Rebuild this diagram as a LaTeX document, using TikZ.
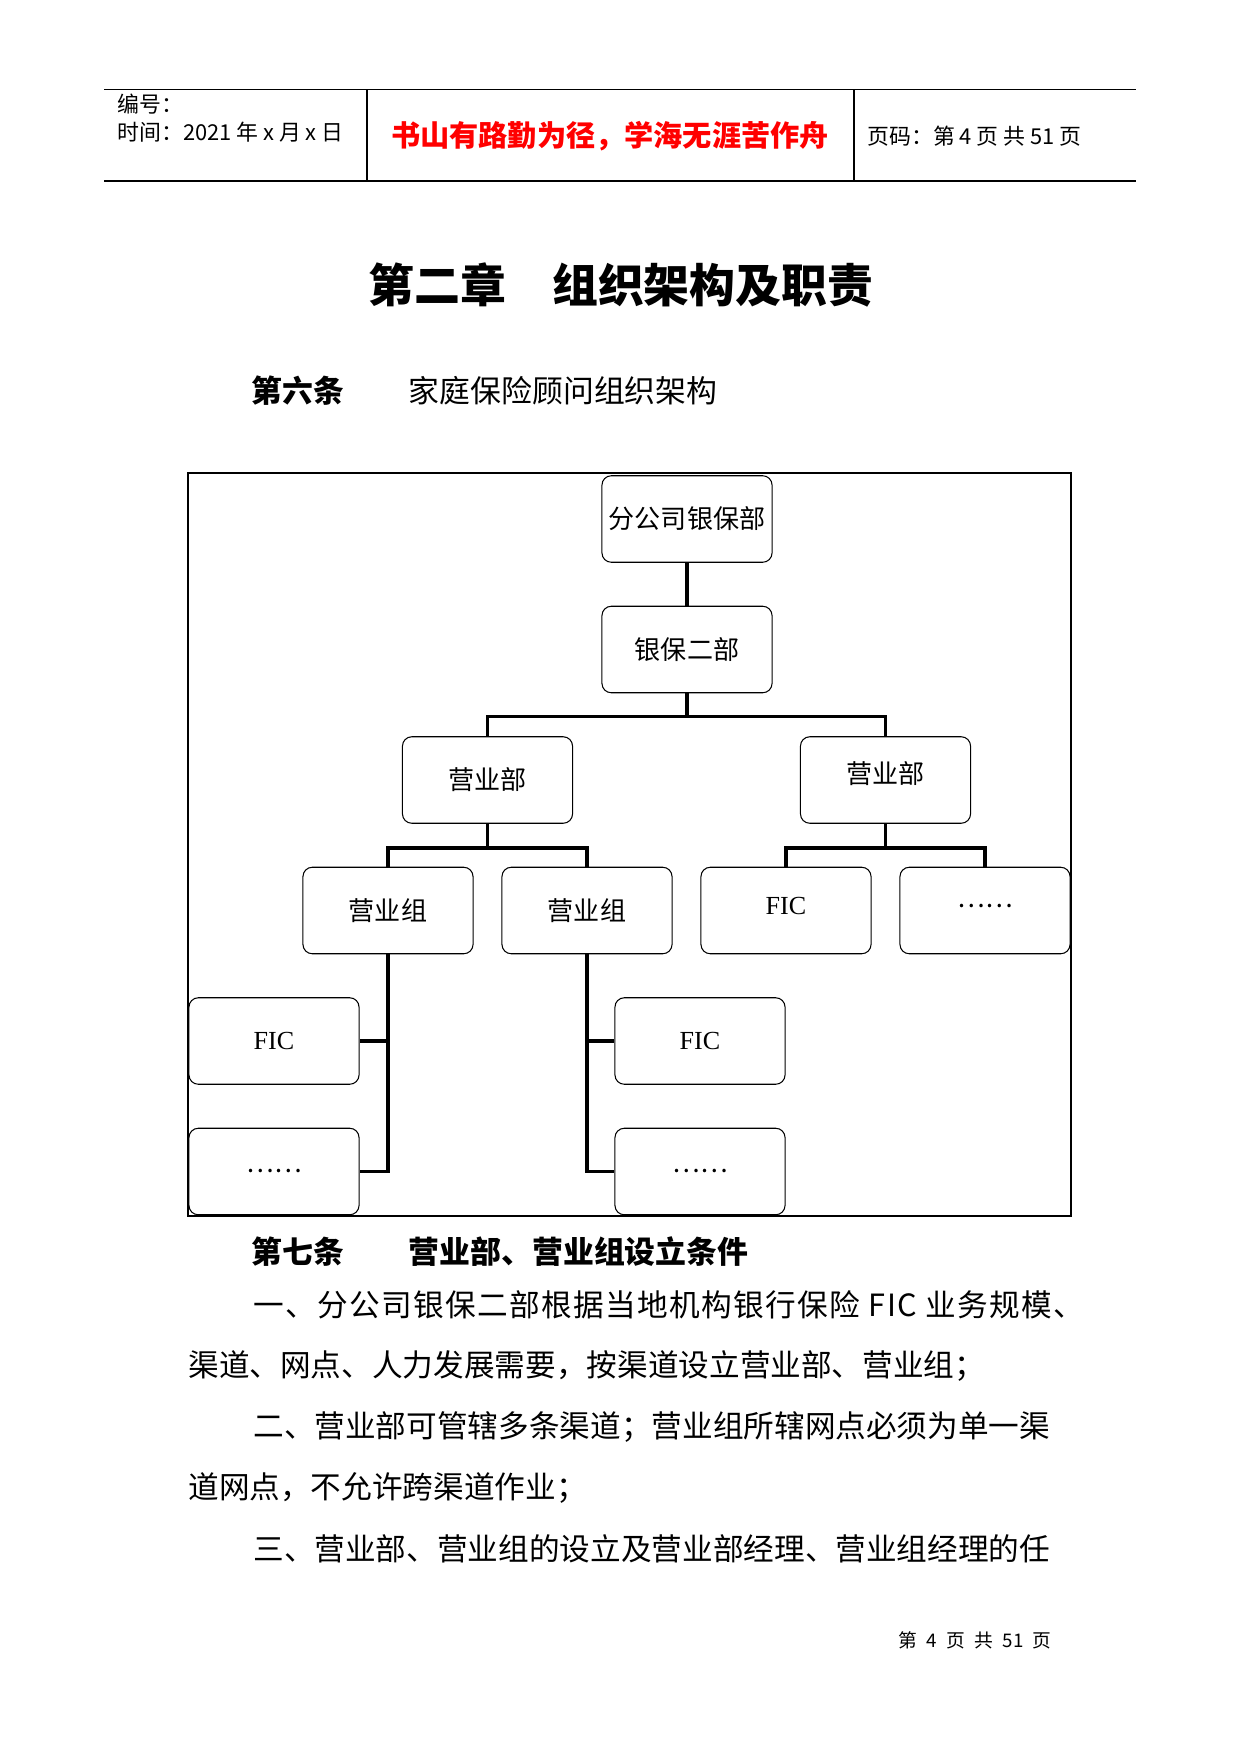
\documentclass[tikz,border=0pt]{standalone}
\usepackage{fontspec}
\setmainfont{Noto Sans CJK SC}
\newfontfamily\latinserif{Liberation Serif}
\usetikzlibrary{math}
\tikzset{
	orgbox/.style={draw,rounded corners=4.5pt,minimum width=81.6pt,minimum height=41.5pt,inner sep=0pt,line width=0.5pt,font=\fontsize{12.5}{12.5}\selectfont},
	ficbox/.style={orgbox,font=\latinserif\fontsize{12.5}{12.5}\selectfont},
	raised/.style={text depth=#1},
	conn/.style={line width=1.8pt,line join=miter},
	rule/.style={line width=0.75pt},
	bodytext/.style={anchor=west,inner sep=0pt,font=\fontsize{14.7}{14.7}\selectfont},
	headtext/.style={anchor=west,inner sep=0pt,font=\fontsize{10.5}{10.5}\selectfont},
	articletext/.style={anchor=west,inner sep=0pt,font=\fontsize{14.8}{14.8}\selectfont},
}

\begin{document}
\begin{tikzpicture}[x=0.4797pt,y=-0.4797pt]
	\useasboundingbox (0,0) rectangle (1241,1754);
	\tikzmath{\dx=199; \dy=130.5; \cx=687;
	\rowa=519; \rowb=\rowa+\dy; \rowc=\rowb+\dy; \rowd=\rowc+\dy; \rowe=\rowd+\dy; \rowf=\rowe+\dy;
	\cola=388; \colb=\cola+\dx; \colc=\colb+\dx; \cold=\colc+\dx;
	\mida=(\cola+\colb)/2; \midb=(\colc+\cold)/2;
	\fica=\cola-114; \ficb=\colb+113;
	\busy=\rowb+67; \busz=\rowc+68;
	\hdl=104; \hdr=1136; \hdt=89.5; \hdb=181;
	\txa=253; \txb=188; \lsk=61; \lny=1305;
	}
	% page header
	\draw[rule] (\hdl,\hdt) -- (\hdr,\hdt);
	\draw[rule] (\hdl,\hdb) -- (\hdr,\hdb);
	\draw[rule] (367,\hdt) -- (367,\hdb);
	\draw[rule] (854,\hdt) -- (854,\hdb);
	\node (bianhao) at (117,104)[headtext]{编号：};
	\node (shijian) at (117,132)[headtext]{时间：2021 年 x 月 x 日};
	\node (motto) at (610,136.5)[text=red,font=\bfseries\fontsize{14}{14}\selectfont]{书山有路勤为径，学海无涯苦作舟};
	\node (yema) at (867,136.5)[headtext]{页码：第 4 页 共 51 页};
	% headings
	\node (title) at (621,285)[font=\bfseries\fontsize{22}{22}\selectfont]{第二章　组织架构及职责};
	\node (art6) at (251,390.5)[articletext,font=\bfseries\fontsize{14.8}{14.8}\selectfont]{第六条};
	\node (art6t) at (408.5,390.5)[articletext]{家庭保险顾问组织架构};
	% chart
	\draw[line width=0.8pt] (188,473) rectangle (1071,1216);
	\node (fgs) at (\cx,\rowa)[orgbox]{分公司银保部};
	\node (ybe) at (\cx,\rowb)[orgbox]{银保二部};
	\node (yybL) at (\mida,\rowc)[orgbox]{营业部};
	\node (yybR) at (\midb,\rowc)[orgbox,raised=6.8pt]{营业部};
	\node (yzA) at (\cola,\rowd)[orgbox]{营业组};
	\node (yzB) at (\colb,\rowd)[orgbox]{营业组};
	\node (ficC) at (\colc,\rowd)[ficbox,raised=4.2pt]{FIC};
	\node (etcD) at (\cold,\rowd)[orgbox,raised=4pt]{……};
	\node (ficA) at (\fica,\rowe)[ficbox]{FIC};
	\node (etcA) at (\fica,\rowf)[orgbox]{……};
	\node (ficB) at (\ficb,\rowe)[ficbox]{FIC};
	\node (etcB) at (\ficb,\rowf)[orgbox]{……};
	\coordinate (busA) at (\cx,\busy);
	\coordinate (busL) at (\mida,\busz);
	\coordinate (busR) at (\midb,\busz);
	\draw[conn] (fgs) -- (ybe);
	\draw[conn] (ybe) -- (busA);
	\draw[conn] (yybL.north) |- (busA) -| (yybR.north);
	\draw[conn] (yybL) -- (busL);
	\draw[conn] (yzA.north) |- (busL) -| (yzB.north);
	\draw[conn] (yybR) -- (busR);
	\draw[conn] (ficC.north) |- (busR) -| (etcD.north);
	\draw[conn] (yzA.south) |- (ficA.east);
	\draw[conn] (yzA.south) |- (etcA.east);
	\draw[conn] (yzB.south) |- (ficB.west);
	\draw[conn] (yzB.south) |- (etcB.west);
	% text below
	\node (art7) at (251,1252)[articletext,font=\bfseries\fontsize{14.8}{14.8}\selectfont]{第七条};
	\node (art7t) at (408.5,1252)[articletext,font=\bfseries\fontsize{14.8}{14.8}\selectfont]{营业部、营业组设立条件};
	\node (lineA) at (\txa,\lny)[bodytext,font=\addfontfeature{LetterSpace=4.5}\fontsize{14.7}{14.7}\selectfont]{一、分公司银保二部根据当地机构银行保险 FIC 业务规模、};
	\node (lineB) at (\txb,\lny+\lsk)[bodytext]{渠道、网点、人力发展需要，按渠道设立营业部、营业组；};
	\node (lineC) at (\txa,\lny+2*\lsk)[bodytext]{二、营业部可管辖多条渠道；营业组所辖网点必须为单一渠};
	\node (lineD) at (\txb,\lny+3*\lsk)[bodytext]{道网点，不允许跨渠道作业；};
	\node (lineE) at (\txa,\lny+4*\lsk)[bodytext]{三、营业部、营业组的设立及营业部经理、营业组经理的任};
	\node (footer) at (1052,1640)[anchor=east,inner sep=0pt,font=\fontsize{9}{9}\selectfont]{第\enspace 4\enspace 页\enspace 共\enspace 51\enspace 页};
\end{tikzpicture}
\end{document}
